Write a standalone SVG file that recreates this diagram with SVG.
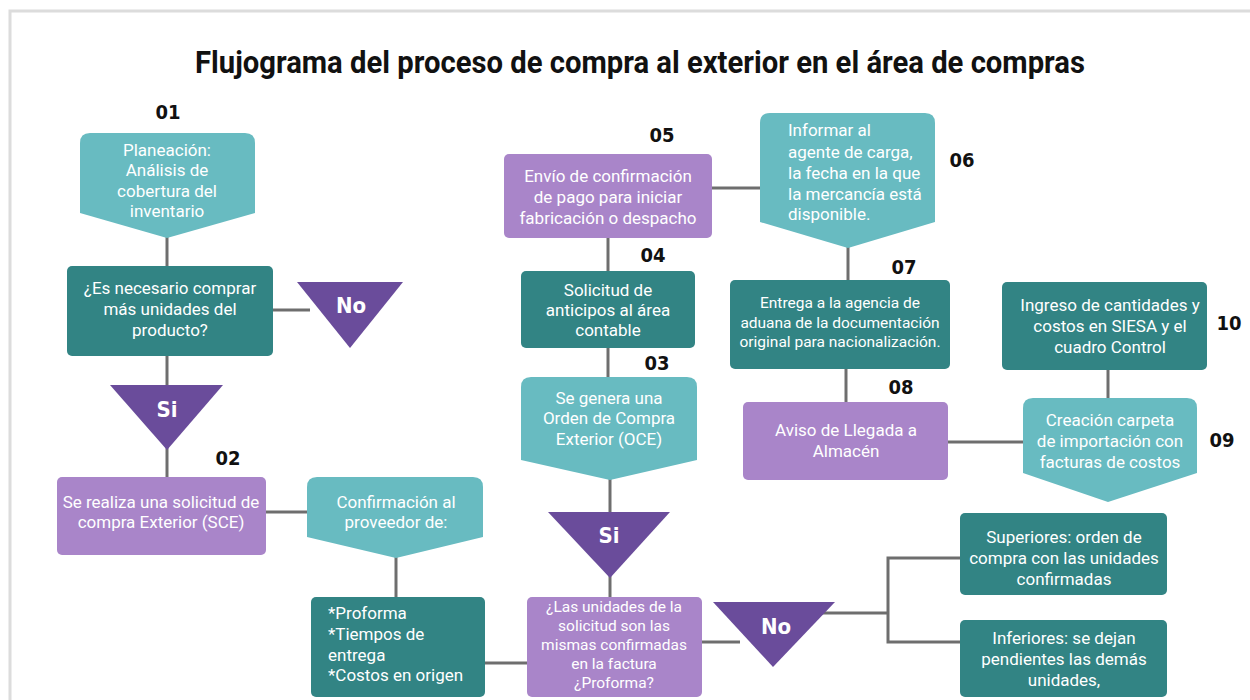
<svg xmlns="http://www.w3.org/2000/svg" width="1250" height="700" viewBox="0 0 1250 700">
<style>
.lt{fill:#68bbc1}
.dk{fill:#328484}
.pl{fill:#a985c9}
.tri{fill:#6a4c9b}
.t{font-family:Roboto,"Liberation Sans",sans-serif;font-size:17px;fill:#fff;text-anchor:middle}
.ts{font-family:Roboto,"Liberation Sans",sans-serif;font-size:15.5px;fill:#fff;text-anchor:middle}
.tl{font-family:Roboto,"Liberation Sans",sans-serif;font-size:17px;fill:#fff}
.num{font-family:"DejaVu Sans Condensed","DejaVu Sans",sans-serif;font-weight:bold;font-size:20px;fill:#111;text-anchor:middle}
.yn{font-family:"DejaVu Sans Condensed","DejaVu Sans",sans-serif;font-weight:bold;font-size:22px;fill:#fff;text-anchor:middle}
.c{stroke:#6e6e6e;stroke-width:3;fill:none}
</style>
<rect width="1250" height="700" fill="#fff"/>
<path d="M10,700 L10,11 L1250,11" fill="none" stroke="#dcdcdc" stroke-width="3"/>
<text x="640" y="73" font-family="Roboto,'Liberation Sans',sans-serif" font-weight="bold" font-size="32" fill="#111" text-anchor="middle" textLength="890" lengthAdjust="spacingAndGlyphs">Flujograma del proceso de compra al exterior en el área de compras</text>

<g id="connectors">
<path class="c" d="M167,236 V266"/>
<path class="c" d="M273,310 H310"/>
<path class="c" d="M167,356 V390"/>
<path class="c" d="M167,445 V478"/>
<path class="c" d="M266,512 H308"/>
<path class="c" d="M396,556 V598"/>
<path class="c" d="M485,663 H528"/>
<path class="c" d="M610,576 V598"/>
<path class="c" d="M610,478 V515"/>
<path class="c" d="M608,348 V378"/>
<path class="c" d="M608,238 V272"/>
<path class="c" d="M712,188 H761"/>
<path class="c" d="M848,246 V281"/>
<path class="c" d="M846,369 V403"/>
<path class="c" d="M948,442 H1024"/>
<path class="c" d="M1108,370 V399"/>
<path class="c" d="M702,642 H740"/>
<path class="c" d="M820,613 H888"/>
<path class="c" d="M960,558 H888 V642 H960"/>
</g>

<g id="n01">
<path class="lt" d="M80,143 Q80,133 90,133 L245,133 Q255,133 255,143 L255,213 L167,238 L80,213 Z"/>
<text class="t" x="167" y="156">Planeación:</text>
<text class="t" x="167" y="176">Análisis de</text>
<text class="t" x="167" y="197">cobertura del</text>
<text class="t" x="167" y="217">inventario</text>
<text class="num" x="168" y="119">01</text>
</g>

<g id="q1">
<rect class="dk" x="67" y="266" width="206" height="90" rx="5"/>
<text class="t" x="170" y="294">¿Es necesario comprar</text>
<text class="t" x="170" y="315">más unidades del</text>
<text class="t" x="170" y="336">producto?</text>
</g>

<g id="no1">
<path class="tri" d="M297,282 L403,282 L350,348 Z"/>
<text class="yn" x="351" y="313">No</text>
</g>

<g id="si1">
<path class="tri" d="M110,385 L223,385 L167,450 Z"/>
<text class="yn" x="167" y="417">Si</text>
</g>

<g id="n02">
<rect class="pl" x="57" y="477" width="209" height="78" rx="5"/>
<text class="t" x="161" y="508">Se realiza una solicitud de</text>
<text class="t" x="161" y="528">compra Exterior (SCE)</text>
<text class="num" x="228" y="465">02</text>
</g>

<g id="conf">
<path class="lt" d="M307,487 Q307,477 317,477 L473,477 Q483,477 483,487 L483,537 L396,558 L307,537 Z"/>
<text class="t" x="396" y="508">Confirmación al</text>
<text class="t" x="396" y="528">proveedor de:</text>
</g>

<g id="prof">
<rect class="dk" x="311" y="597" width="174" height="100" rx="5"/>
<text class="tl" x="328" y="619">*Proforma</text>
<text class="tl" x="328" y="640">*Tiempos de</text>
<text class="tl" x="328" y="661">entrega</text>
<text class="tl" x="328" y="681">*Costos en origen</text>
</g>

<g id="q2">
<rect class="pl" x="527" y="597" width="175" height="100" rx="5"/>
<text class="ts" x="614" y="612">¿Las unidades de la</text>
<text class="ts" x="614" y="631">solicitud son las</text>
<text class="ts" x="614" y="650">mismas confirmadas</text>
<text class="ts" x="614" y="669">en la factura</text>
<text class="ts" x="614" y="688">¿Proforma?</text>
</g>

<g id="no2">
<path class="tri" d="M713,602 L835,602 L773,667 Z"/>
<text class="yn" x="776" y="634">No</text>
</g>

<g id="si2">
<path class="tri" d="M548,512 L670,512 L610,578 Z"/>
<text class="yn" x="609" y="543">Si</text>
</g>

<g id="sup">
<rect class="dk" x="960" y="513" width="207" height="82" rx="5"/>
<text class="t" x="1064" y="543">Superiores: orden de</text>
<text class="t" x="1064" y="564">compra con las unidades</text>
<text class="t" x="1064" y="585">confirmadas</text>
</g>

<g id="inf">
<rect class="dk" x="960" y="620" width="207" height="77" rx="5"/>
<text class="t" x="1064" y="644">Inferiores: se dejan</text>
<text class="t" x="1064" y="665">pendientes las demás</text>
<text class="t" x="1064" y="686">unidades,</text>
</g>

<g id="n03">
<path class="lt" d="M521,387 Q521,377 531,377 L687,377 Q697,377 697,387 L697,460 L610,480 L521,460 Z"/>
<text class="t" x="609" y="404">Se genera una</text>
<text class="t" x="609" y="424">Orden de Compra</text>
<text class="t" x="609" y="445">Exterior (OCE)</text>
<text class="num" x="657" y="370">03</text>
</g>

<g id="n04">
<rect class="dk" x="521" y="271" width="174" height="77" rx="5"/>
<text class="t" x="608" y="296">Solicitud de</text>
<text class="t" x="608" y="316">anticipos al área</text>
<text class="t" x="608" y="336">contable</text>
<text class="num" x="653" y="262">04</text>
</g>

<g id="n05">
<rect class="pl" x="504" y="154" width="208" height="84" rx="5"/>
<text class="t" x="608" y="182">Envío de confirmación</text>
<text class="t" x="608" y="203">de pago para iniciar</text>
<text class="t" x="608" y="224">fabricación o despacho</text>
<text class="num" x="662" y="142">05</text>
</g>

<g id="n06">
<path class="lt" d="M760,123 Q760,113 770,113 L925,113 Q935,113 935,123 L935,222 L848,248 L760,222 Z"/>
<text class="tl" x="788" y="136">Informar al</text>
<text class="tl" x="788" y="158">agente de carga,</text>
<text class="tl" x="788" y="179">la fecha en la que</text>
<text class="tl" x="788" y="200">la mercancía está</text>
<text class="tl" x="788" y="220">disponible.</text>
<text class="num" x="962" y="167">06</text>
</g>

<g id="n07">
<rect class="dk" x="730" y="280" width="220" height="89" rx="5"/>
<text class="ts" x="840" y="308">Entrega a la agencia de</text>
<text class="ts" x="840" y="328">aduana de la documentación</text>
<text class="ts" x="840" y="347">original para nacionalización.</text>
<text class="num" x="904" y="274">07</text>
</g>

<g id="n08">
<rect class="pl" x="743" y="402" width="205" height="78" rx="5"/>
<text class="t" x="846" y="436">Aviso de Llegada a</text>
<text class="t" x="846" y="457">Almacén</text>
<text class="num" x="901" y="394">08</text>
</g>

<g id="n09">
<path class="lt" d="M1023,408 Q1023,398 1033,398 L1187,398 Q1197,398 1197,408 L1197,473 L1108,502 L1023,473 Z"/>
<text class="t" x="1110" y="426">Creación carpeta</text>
<text class="t" x="1110" y="447">de importación con</text>
<text class="t" x="1110" y="468">facturas de costos</text>
<text class="num" x="1222" y="447">09</text>
</g>

<g id="n10">
<rect class="dk" x="1002" y="282" width="205" height="88" rx="5"/>
<text class="t" x="1110" y="311">Ingreso de cantidades y</text>
<text class="t" x="1110" y="332">costos en SIESA y el</text>
<text class="t" x="1110" y="353">cuadro Control</text>
<text class="num" x="1229" y="330">10</text>
</g>
</svg>
